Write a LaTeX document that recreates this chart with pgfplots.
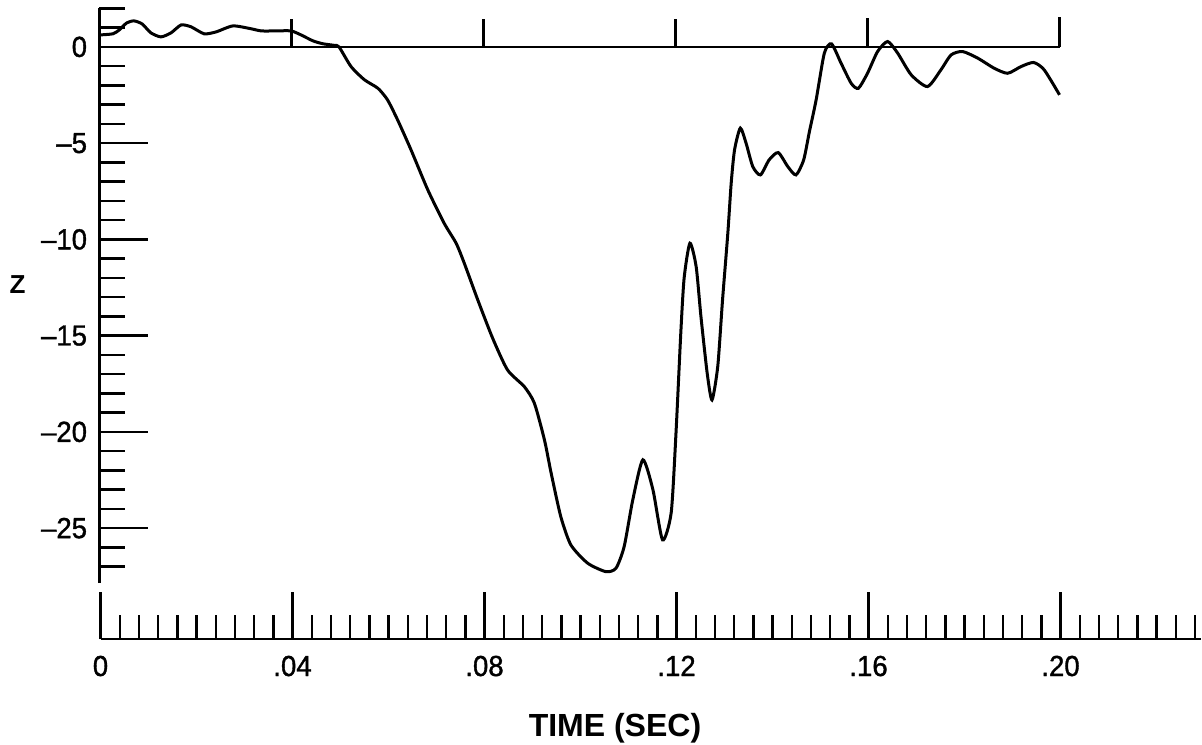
\documentclass[border=0pt]{standalone}
\usepackage{pgfplots}
\pgfplotsset{compat=1.18}
\usepackage{fontspec}
\setmainfont{Liberation Sans}
\newfontfamily\tickfont[FakeBold=1.2, FakeStretch=0.95]{Liberation Sans}
\begin{document}
\begin{tikzpicture}
\begin{axis}[
  name=main,
  at={(0pt,0pt)}, anchor=south west,
  scale only axis,
  width=550.75pt, height=287.3pt,
  xmin=0, xmax=0.22948,
  ymin=-27.85, ymax=2,
  axis x line=none,
  axis y line=left,
  axis line style={-, line width=1.3pt},
  ytick={0,-5,-10,-15,-20,-25},
  yticklabels={0,–5,–10,–15,–20,–25},
  minor ytick={-27,-26,...,2},
  ytick align=inside,
  major tick length=24pt, minor tick length=12.5pt,
  every tick/.style={line width=1.2pt, black},
  yticklabel style={font=\tickfont\fontsize{14.5}{16}\selectfont, anchor=east, xshift=-2.7pt},
  ylabel={Z},
  every axis y label/.style={at={(rel axis cs:0,0.5196)}, anchor=center, xshift=-41pt, font=\bfseries\fontsize{13}{15}\selectfont},
]
\addplot[black, line width=1.3pt] coordinates {(0,0) (0.2,0)};
\addplot[black, ycomb, mark=none, line width=1.2pt] coordinates {(0.04,1.45) (0.08,1.45) (0.12,1.45) (0.16,1.5) (0.2,1.55)};
\addplot[black, line width=1.5pt, smooth, tension=0.4] coordinates {
(0,0.62) (0.0028,0.68) (0.0041,0.88) (0.0057,1.25) (0.0072,1.35) (0.0089,1.19)
(0.0107,0.73) (0.0128,0.52) (0.0149,0.73) (0.0170,1.14) (0.0191,1.04) (0.0218,0.68)
(0.0243,0.78) (0.0278,1.09) (0.0316,0.94) (0.0337,0.83) (0.0368,0.83) (0.0399,0.83)
(0.0420,0.62) (0.0445,0.31) (0.0466,0.16) (0.0489,0.08) (0.0499,0.0)
(0.0524,-1.02) (0.0552,-1.71) (0.0580,-2.15) (0.0600,-2.75) (0.0621,-3.79)
(0.0649,-5.35) (0.0684,-7.43) (0.0718,-9.16) (0.0743,-10.2) (0.0760,-11.24)
(0.0788,-13.14) (0.0819,-15.13) (0.0850,-16.78) (0.0885,-17.65) (0.0906,-18.51)
(0.0927,-20.42) (0.0941,-22.15) (0.0961,-24.4) (0.0982,-25.87) (0.1017,-26.82)
(0.1055,-27.26) (0.1076,-27.08) (0.1093,-25.96) (0.1111,-23.53) (0.1132,-21.45)
(0.1153,-23.01) (0.1173,-25.61) (0.1191,-24.2) (0.1201,-20.07) (0.1211,-14.87)
(0.1218,-12.0) (0.1230,-10.2) (0.1243,-11.41) (0.1253,-14.01) (0.1266,-16.95)
(0.1276,-18.34) (0.1288,-16.6) (0.1298,-13.14) (0.1309,-9.68) (0.1316,-7.08)
(0.1323,-5.35) (0.1335,-4.22) (0.1347,-5.0) (0.1361,-6.22) (0.1377,-6.65)
(0.1395,-5.87) (0.1414,-5.49) (0.1434,-6.22) (0.1451,-6.65) (0.1467,-5.87)
(0.1479,-4.4) (0.1493,-2.75) (0.1510,-0.33) (0.1525,0.16) (0.1545,-0.85)
(0.1566,-1.89) (0.1581,-2.15) (0.1600,-1.37) (0.1621,-0.24) (0.1642,0.28)
(0.1663,-0.33) (0.1691,-1.45) (0.1725,-2.06) (0.1753,-1.19) (0.1774,-0.42)
(0.1798,-0.24) (0.1830,-0.59) (0.1864,-1.11) (0.1892,-1.37) (0.1920,-1.02)
(0.1946,-0.81) (0.1968,-1.19) (0.2000,-2.49)
};
\end{axis}
\begin{axis}[
  at={(0.5pt,-28pt)}, anchor=south west,
  scale only axis,
  width=550.25pt, height=20pt,
  xmin=0, xmax=0.22927, ymin=0, ymax=1,
  axis y line=none, axis x line=bottom,
  axis line style={-, line width=1.3pt},
  xtick={0,0.04,0.08,0.12,0.16,0.2},
  xticklabels={0,.04,.08,.12,.16,.20},
  minor xtick={0,0.004,0.008,0.012,0.016,0.02,0.024,0.028,0.032,0.036,0.04,0.044,0.048,0.052,0.056,0.06,0.064,0.068,0.072,0.076,0.08,0.084,0.088,0.092,0.096,0.1,0.104,0.108,0.112,0.116,0.12,0.124,0.128,0.132,0.136,0.14,0.144,0.148,0.152,0.156,0.16,0.164,0.168,0.172,0.176,0.18,0.184,0.188,0.192,0.196,0.2,0.204,0.208,0.212,0.216,0.22,0.224,0.228},
  xtick align=inside,
  major tick length=23.5pt, minor tick length=12pt,
  every tick/.style={line width=1.2pt, black},
  xticklabel style={font=\tickfont\fontsize{14.5}{16}\selectfont, anchor=base, yshift=-18.5pt},
  xlabel={TIME (SEC)},
  every axis x label/.style={at={(rel axis cs:0.4675,0)}, anchor=center, yshift=-44.5pt, font=\bfseries\fontsize{16}{18}\selectfont},
]
\addplot[draw=none] coordinates {(0,0.5)};
\end{axis}
\pgfresetboundingbox
\useasboundingbox (-49.75pt,-80.5pt) rectangle (551.25pt,291.5pt);
\end{tikzpicture}
\end{document}
